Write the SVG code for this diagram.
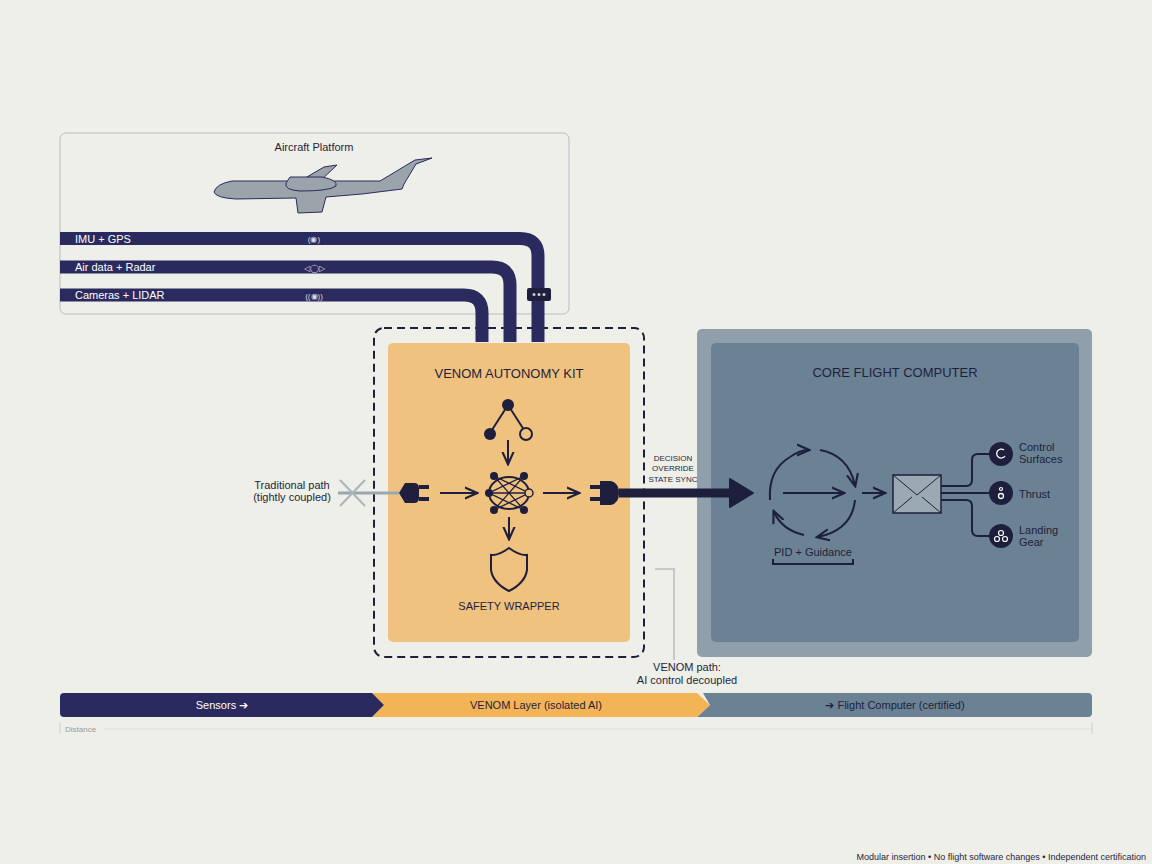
<svg xmlns="http://www.w3.org/2000/svg" width="1152" height="864" viewBox="0 0 1152 864">
<defs>
<style>
text{font-family:"Liberation Sans",Arial,sans-serif;fill:#1e1f3d}
.bus{fill:none;stroke:#2b2a5e;stroke-width:13}
.ln{fill:none;stroke:#1e1f3d;stroke-width:2}
</style>
<marker id="ah2" viewBox="0 0 10 10" refX="8" refY="5" markerWidth="7" markerHeight="7" orient="auto"><path d="M0,1L9,5L0,9" fill="none" stroke="#1e1f3d" stroke-width="1.5"/></marker>
</defs>
<rect width="1152" height="864" fill="#efefea"/>

<g id="aircraft-platform">
<rect x="60" y="133" width="509" height="181" rx="6" fill="#efefea" stroke="#b9bcbf"/>
<text x="314" y="151" font-size="11" text-anchor="middle">Aircraft Platform</text>
<path d="M214,192 Q216,184 232,181 L300,181 L324,167 L337,165 L320,181 L380,181 L415,160 L432,158 L416,164 L404,184 L402,189 L362,194 L326,197 L322,212 L298,213 L296,198 L236,199 Q216,198 214,192z" fill="#9ca4ab" stroke="#2b2a5e" stroke-width="1"/>
<path d="M290,177 H322 Q338,180 336,186 Q330,191 300,191 Q284,190 286,183z" fill="#9ca4ab" stroke="#2b2a5e" stroke-width="1"/>
</g>

<g id="venom-kit">
<rect x="374" y="328" width="270" height="329" rx="10" fill="none" stroke="#1e1f3d" stroke-width="2" stroke-dasharray="8,5"/>
<rect x="388" y="343" width="242" height="299" rx="5" fill="#f0c27f"/>
<text x="509" y="378" font-size="13" text-anchor="middle">VENOM AUTONOMY KIT</text>
<path d="M490,433 L508,405 L526,433" class="ln"/>
<circle cx="508" cy="405" r="6" fill="#1e1f3d"/>
<circle cx="490" cy="434" r="6" fill="#1e1f3d"/>
<circle cx="526" cy="434" r="6" fill="#f0c27f" stroke="#1e1f3d" stroke-width="2"/>
<path d="M508,440 V463" class="ln" marker-end="url(#ah2)"/>
<ellipse cx="509" cy="493" rx="20" ry="16" class="ln"/>
<path d="M494,476 L524,510 M524,476 L494,510 M489,493 H529 M494,476 L529,493 L494,510 M524,476 L489,493 L524,510" stroke="#1e1f3d" stroke-width="1.3" fill="none"/>
<g fill="#1e1f3d"><circle cx="494" cy="476" r="4"/><circle cx="524" cy="476" r="4"/><circle cx="494" cy="510" r="4"/><circle cx="524" cy="510" r="4"/><circle cx="489" cy="493" r="4"/></g>
<circle cx="529" cy="493" r="4" fill="#f0c27f" stroke="#1e1f3d" stroke-width="1.5"/>
<path d="M509,517 V538" class="ln" marker-end="url(#ah2)"/>
<path d="M509,548 Q498,556 491,555 V570 Q493,583 509,591 Q525,583 527,570 V555 Q520,556 509,548z" class="ln" stroke-width="1.5"/>
<text x="509" y="610" font-size="11" text-anchor="middle">SAFETY WRAPPER</text>
<g fill="#1e1f3d">
<path d="M399,493 L405,483 H414 Q419,483 419,488 V498 Q419,503 414,503 H405z M419,485 H429 V489 H419z M419,497 H429 V501 H419z"/>
<path d="M590,485 H600 V489 H590z M590,497 H600 V501 H590z M600,481 H611 Q619,483 619,493 Q619,503 611,505 H600z"/>
</g>
</g>

<g id="core-flight-computer">
<rect x="697" y="329" width="395" height="328" rx="5" fill="#8fa0ac"/>
<rect x="711" y="343" width="368" height="299" rx="5" fill="#6b8294"/>
<text x="895" y="377" font-size="13" text-anchor="middle">CORE FLIGHT COMPUTER</text>
<path d="M790,457 Q800,450 808,450" class="ln" marker-end="url(#ah2)"/>
<path d="M820,450 Q848,455 855,485" class="ln" marker-end="url(#ah2)"/>
<path d="M855,500 Q852,530 818,537" class="ln" marker-end="url(#ah2)"/>
<path d="M804,535 Q782,530 774,512" class="ln" marker-end="url(#ah2)"/>
<path d="M770,500 Q768,470 790,457" class="ln"/>
<path d="M783,493 H843" class="ln" marker-end="url(#ah2)"/>
<path d="M862,493 H884" class="ln" marker-end="url(#ah2)"/>
<text x="813" y="556" font-size="11" text-anchor="middle">PID + Guidance</text>
<path d="M773,559 V564 H853 V559" class="ln" stroke-width="1.5"/>
<rect x="893" y="475" width="48" height="38" fill="#9ba9b3" stroke="#1e1f3d" stroke-width="1.5"/>
<path d="M893,475 L917,495 L941,475 M893,513 L912,497 M941,513 L922,497" stroke="#1e1f3d" stroke-width="1" fill="none"/>
<path d="M941,486 H966 Q972,486 972,480 V460 Q972,454 978,454 H990" class="ln" stroke-width="1.5"/>
<path d="M941,493 H990" class="ln" stroke-width="1.5"/>
<path d="M941,500 H966 Q972,500 972,506 V530 Q972,536 978,536 H990" class="ln" stroke-width="1.5"/>
<circle cx="1001" cy="454" r="12" fill="#1e1f3d"/><circle cx="1001" cy="493" r="12" fill="#1e1f3d"/><circle cx="1001" cy="536" r="12" fill="#1e1f3d"/>
<path d="M1004,450 A4.5,4.5 0 1 0 1005,456" fill="none" stroke="#fff" stroke-width="1.3"/>
<circle cx="1001" cy="496" r="2.5" fill="none" stroke="#fff" stroke-width="1.3"/><circle cx="1001" cy="489" r="1.5" fill="none" stroke="#fff" stroke-width="1.2"/>
<circle cx="997" cy="539" r="2.5" fill="none" stroke="#fff" stroke-width="1.2"/><circle cx="1005" cy="539" r="2.5" fill="none" stroke="#fff" stroke-width="1.2"/><circle cx="1001" cy="533" r="2.5" fill="none" stroke="#fff" stroke-width="1.2"/>
<text x="1019" y="451" font-size="11">Control</text>
<text x="1019" y="463" font-size="11">Surfaces</text>
<text x="1019" y="498" font-size="11">Thrust</text>
<text x="1019" y="534" font-size="11">Landing</text>
<text x="1019" y="546" font-size="11">Gear</text>
</g>

<g id="connectors">
<path class="bus" d="M60,238.5 H520 Q538,238.5 538,256 V342"/>
<path class="bus" d="M60,267 H492 Q510,267 510,285 V342"/>
<path class="bus" d="M60,295 H464 Q482,295 482,313 V342"/>
<rect x="527" y="288" width="24" height="13" rx="2" fill="#1e1f3d"/>
<circle cx="534" cy="294.5" r="1.5" fill="#ccc"/><circle cx="539" cy="294.5" r="1.5" fill="#ccc"/><circle cx="544" cy="294.5" r="1.5" fill="#ccc"/>
<text x="75" y="242.5" font-size="11" style="fill:#fff">IMU + GPS</text>
<text x="75" y="271" font-size="11" style="fill:#fff">Air data + Radar</text>
<text x="75" y="299" font-size="11" style="fill:#fff">Cameras + LIDAR</text>
<text x="314" y="242" font-size="8" text-anchor="middle" style="fill:#ddd">(◉)</text>
<text x="314" y="271" font-size="8" text-anchor="middle" style="fill:#ddd">◁◯▷</text>
<text x="314" y="299" font-size="8" text-anchor="middle" style="fill:#ddd">((◉))</text>
<line x1="338" y1="493" x2="399" y2="493" stroke="#9aa7b0" stroke-width="3"/>
<path d="M340,480 L365,506 M340,506 L365,480" stroke="#aab4bb" stroke-width="2"/>
<path d="M440,493 H476" class="ln" marker-end="url(#ah2)"/>
<path d="M543,493 H578" class="ln" marker-end="url(#ah2)"/>
<path d="M619,493 H735" stroke="#1e1f3d" stroke-width="9" fill="none"/>
<path d="M730,479 L753,493 L730,507z" fill="#1e1f3d" stroke="#1e1f3d" stroke-width="2" stroke-linejoin="round"/>
<path d="M655,569 H674 V660" fill="none" stroke="#b9bcbf" stroke-width="1.5"/>
</g>

<g id="labels">
<text x="292" y="489" font-size="11" text-anchor="middle">Traditional path</text>
<text x="292" y="501" font-size="11" text-anchor="middle">(tightly coupled)</text>
<text x="673" y="461" font-size="8" text-anchor="middle">DECISION</text>
<text x="673" y="471" font-size="8" text-anchor="middle">OVERRIDE</text>
<text x="673" y="482" font-size="8" text-anchor="middle">STATE SYNC</text>
<text x="687" y="671" font-size="11" text-anchor="middle">VENOM path:</text>
<text x="687" y="684" font-size="11" text-anchor="middle">AI control decoupled</text>
</g>

<g id="timeline">
<path d="M703,693 H1088 Q1092,693 1092,697 V713 Q1092,717 1088,717 H697 L710,705z" fill="#6b8294"/>
<path d="M372,693 H697 L710,705 L697,717 H372 L384,705z" fill="#f2b455"/>
<path d="M64,693 H372 L384,705 L372,717 H64 Q60,717 60,713 V697 Q60,693 64,693z" fill="#2b2a5e"/>
<text x="222" y="709" font-size="11" text-anchor="middle" style="fill:#fff">Sensors ➔</text>
<text x="536" y="709" font-size="11" text-anchor="middle">VENOM Layer (isolated AI)</text>
<text x="895" y="709" font-size="11" text-anchor="middle">➔ Flight Computer (certified)</text>
<line x1="60" y1="722" x2="60" y2="734" stroke="#ccc"/>
<line x1="104" y1="729" x2="1092" y2="729" stroke="#ddd"/>
<line x1="1092" y1="722" x2="1092" y2="734" stroke="#ccc"/>
<text x="65" y="732" font-size="8" style="fill:#999">Distance</text>
</g>
<text x="1146" y="860" font-size="9" text-anchor="end">Modular insertion • No flight software changes • Independent certification</text>
</svg>
